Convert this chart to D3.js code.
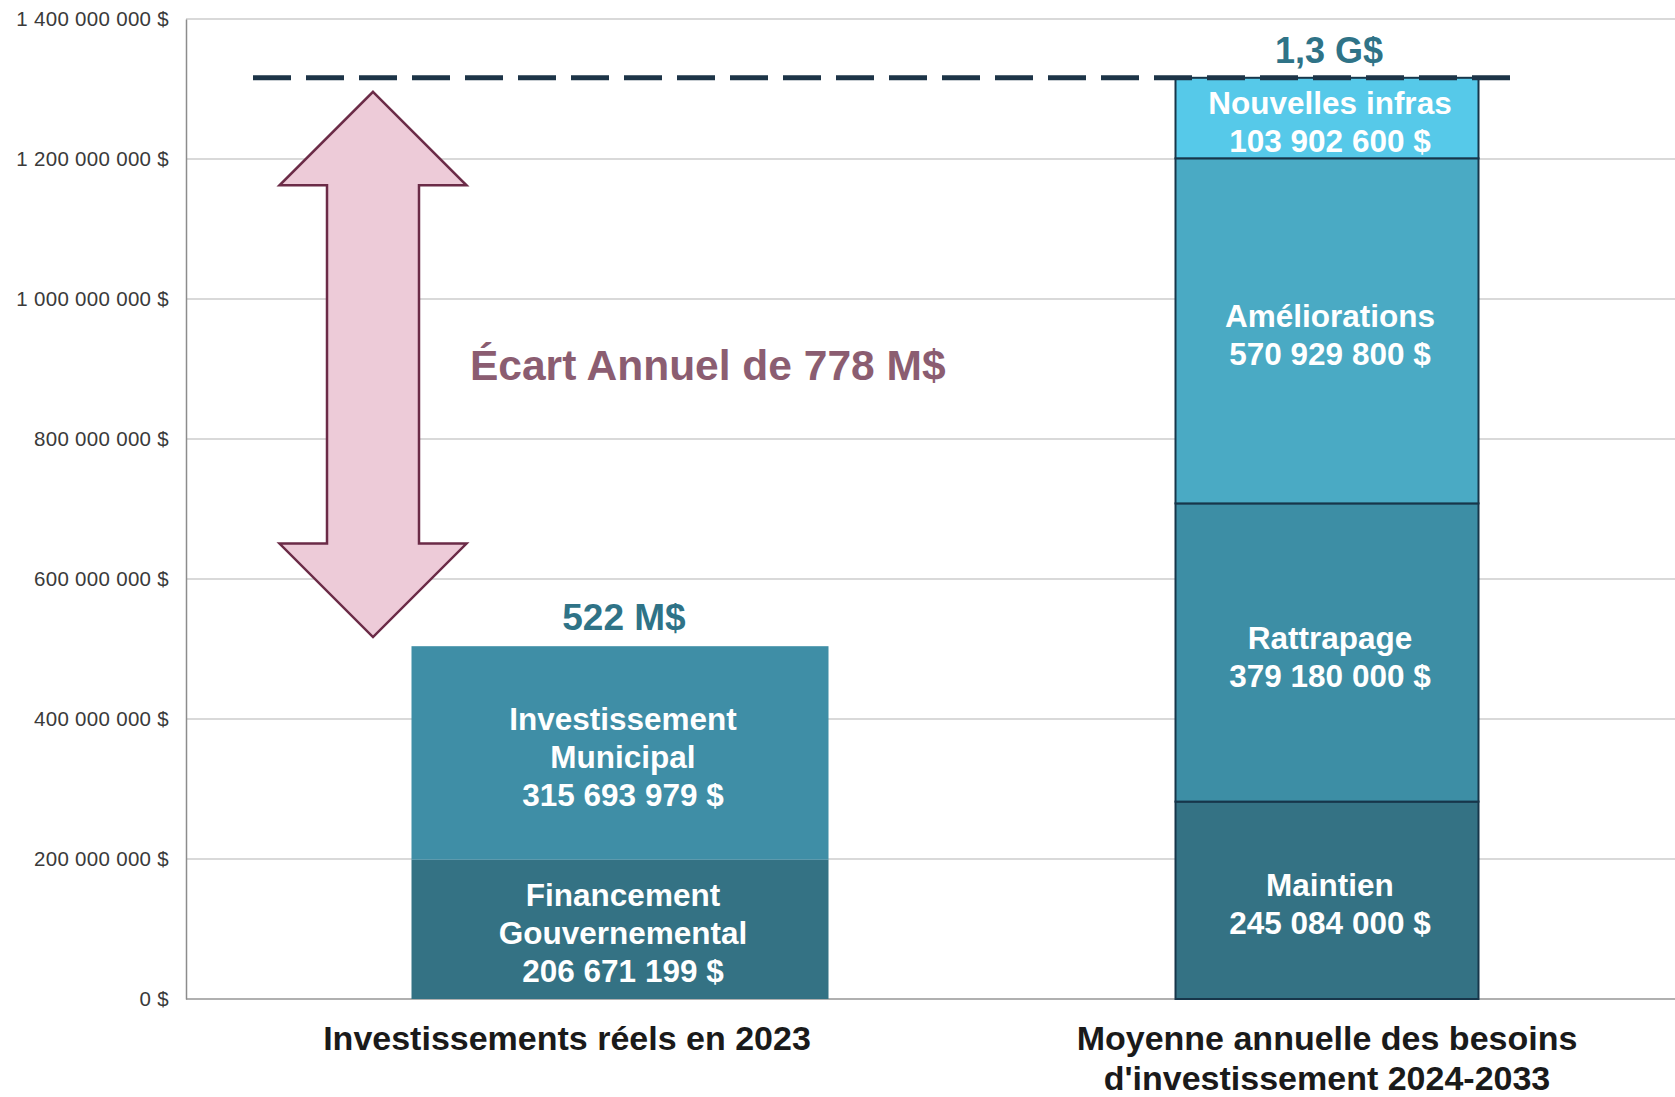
<!DOCTYPE html>
<html lang="fr">
<head>
<meta charset="utf-8">
<script src="https://cdn.jsdelivr.net/npm/d3@7"></script>
<style>
  body { margin: 0; background: #fff; }
  svg { display: block; font-family: "Liberation Sans", Arial, sans-serif; }
</style>
</head>
<body>
<div id="chart"></div>
<script>
// Categories on the x axis
const categories = ["Investissements réels en 2023", "Moyenne annuelle des besoins d'investissement 2024-2033"];
const categoryLines = [["Investissements réels en 2023"], ["Moyenne annuelle des besoins", "d'investissement 2024-2033"]];

// Left bar (2023), bottom to top: heights as drawn, labels as written
const leftNames = [["Financement", "Gouvernemental"], ["Investissement", "Municipal"]];
const leftValues = [199e6, 305e6];
const leftLabels = ["206 671 199 $", "315 693 979 $"];
const leftTotalLabel = "522 M$";

// Right bar (needs 2024-2033), bottom to top
const rightNames = [["Maintien"], ["Rattrapage"], ["Améliorations"], ["Nouvelles infras"]];
const rightValues = [282e6, 426e6, 493e6, 115e6];
const rightLabels = ["245 084 000 $", "379 180 000 $", "570 929 800 $", "103 902 600 $"];
const rightTotalLabel = "1,3 G$";

// Gap arrow (from top of 2023 bar up to the needs line)
const gapRange = [517e6, 1296e6];
const gapLabel = "Écart Annuel de 778 M$";

// Y axis ticks
const yTicks = [0, 2e8, 4e8, 6e8, 8e8, 10e8, 12e8, 14e8];

const width = 1675, height = 1097;
const axisX = 186;

const svg = d3.select("#chart").append("svg")
  .attr("width", width)
  .attr("height", height);

const y = d3.scaleLinear().domain([0, 1.4e9]).range([999, 19]);
const x = d3.scalePoint().domain(categories).range([620, 1327]);
const barWidth = [417, 303];

const locale = d3.formatLocale({ decimal: ",", thousands: " ", grouping: [3], currency: ["", " $"] });
const fmt = locale.format(",");

// gridlines
svg.append("g")
  .selectAll("line")
  .data(yTicks)
  .join("line")
  .attr("x1", axisX).attr("x2", width)
  .attr("y1", d => y(d)).attr("y2", d => y(d))
  .attr("stroke", d => d === 0 ? "#b0b0b0" : "#d9d9d9")
  .attr("stroke-width", 2);

// y axis through d3.axisLeft, then restyled
const yAxis = svg.append("g")
  .attr("transform", `translate(${axisX},0)`)
  .call(d3.axisLeft(y).tickValues(yTicks).tickSize(0).tickPadding(17).tickFormat(d => fmt(d) + " $"));
yAxis.select(".domain").attr("stroke", "#8c8c8c").attr("stroke-width", 1.5);
yAxis.selectAll("text")
  .attr("font-family", "'Liberation Sans', Arial, sans-serif")
  .attr("font-size", 20.5)
  .attr("letter-spacing", 0.3)
  .attr("fill", "#3a3a3a");

// stack helper
function stackBar(values, names, labels, colors, cat, idx, stroke) {
  let acc = 0;
  const segs = values.map((v, i) => {
    const s = { y0: acc, y1: acc + v, name: names[i], label: labels[i], color: colors[i] };
    acc += v;
    return s;
  });
  const cx = x(cat);
  const w = barWidth[idx];
  const g = svg.append("g");
  g.selectAll("rect")
    .data(segs)
    .join("rect")
    .attr("x", cx - w / 2)
    .attr("width", w)
    .attr("y", d => y(d.y1))
    .attr("height", d => y(d.y0) - y(d.y1))
    .attr("fill", d => d.color)
    .attr("stroke", stroke || "none")
    .attr("stroke-width", 2);

  // white labels in each segment
  segs.forEach(d => {
    const lines = d.name.concat([d.label]);
    const mid = (y(d.y0) + y(d.y1)) / 2 + 4;
    const lh = 38;
    const first = mid - (lines.length - 1) * lh / 2 + 11;
    g.append("text")
      .attr("text-anchor", "middle")
      .attr("fill", "#fff")
      .attr("font-weight", "bold")
      .attr("font-size", 31.5)
      .selectAll("tspan")
      .data(lines)
      .join("tspan")
      .attr("x", cx + 3)
      .attr("y", (t, i) => first + i * lh)
      .text(t => t);
  });
  return acc;
}

const leftTotal = stackBar(leftValues, leftNames, leftLabels, ["#347284", "#3f8ea6"], categories[0], 0, null);
const rightTotal = stackBar(rightValues, rightNames, rightLabels, ["#347284", "#3d8ea5", "#4aaac4", "#56c9e9"], categories[1], 1, "#17364a");

// dashed needs line
svg.append("line")
  .attr("x1", 253).attr("x2", 1517)
  .attr("y1", y(rightTotal)).attr("y2", y(rightTotal))
  .attr("stroke", "#1d3447")
  .attr("stroke-width", 5)
  .attr("stroke-dasharray", "38 15");

// totals on top
svg.append("text")
  .attr("x", x(categories[0]) + 4)
  .attr("y", y(leftTotal) - 16)
  .attr("text-anchor", "middle")
  .attr("font-weight", "bold")
  .attr("font-size", 37)
  .attr("fill", "#2f7387")
  .text(leftTotalLabel);

svg.append("text")
  .attr("x", x(categories[1]) + 2)
  .attr("y", y(rightTotal) - 15)
  .attr("text-anchor", "middle")
  .attr("font-weight", "bold")
  .attr("font-size", 36)
  .attr("fill", "#2f7387")
  .text(rightTotalLabel);

// double arrow for the gap
const ax = 373, shaftHalf = 46, headHalf = 93.5, headLen = 93.5;
const yTop = y(gapRange[1]), yBot = y(gapRange[0]);
const arrowPts = [
  [ax, yTop],
  [ax + headHalf, yTop + headLen],
  [ax + shaftHalf, yTop + headLen],
  [ax + shaftHalf, yBot - headLen],
  [ax + headHalf, yBot - headLen],
  [ax, yBot],
  [ax - headHalf, yBot - headLen],
  [ax - shaftHalf, yBot - headLen],
  [ax - shaftHalf, yTop + headLen],
  [ax - headHalf, yTop + headLen]
];
svg.append("path")
  .attr("d", d3.line()(arrowPts) + "Z")
  .attr("fill", "#edcbd8")
  .attr("stroke", "#6b2b47")
  .attr("stroke-width", 2.5)
  .attr("stroke-linejoin", "miter");

svg.append("text")
  .attr("x", 470)
  .attr("y", 380)
  .attr("font-weight", "bold")
  .attr("font-size", 42.5)
  .attr("fill", "#8b5d71")
  .text(gapLabel);

// category labels below the axis
const labelOffset = [-53, 0];
categories.forEach((c, i) => {
  svg.append("text")
    .attr("text-anchor", "middle")
    .attr("font-weight", "bold")
    .attr("font-size", 34)
    .attr("fill", "#1a1a1a")
    .selectAll("tspan")
    .data(categoryLines[i])
    .join("tspan")
    .attr("x", x(c) + labelOffset[i])
    .attr("y", (t, j) => 1050 + j * 40)
    .text(t => t);
});
</script>
</body>
</html>
